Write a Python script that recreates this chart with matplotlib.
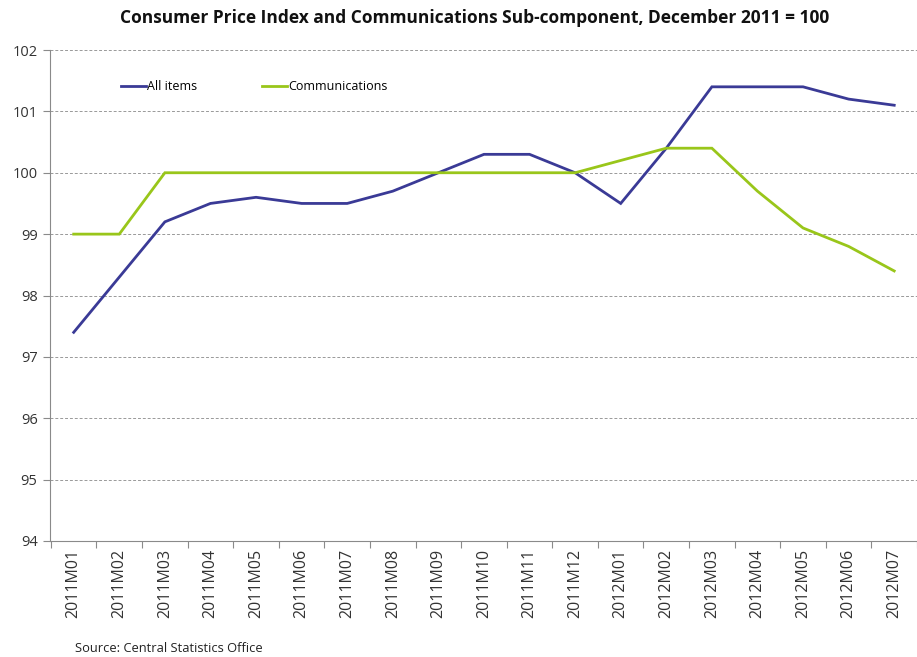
import matplotlib
matplotlib.use("Agg")
import matplotlib.pyplot as plt
import numpy as np

categories = ["2011M01", "2011M02", "2011M03", "2011M04", "2011M05", "2011M06",
              "2011M07", "2011M08", "2011M09", "2011M10", "2011M11", "2011M12",
              "2012M01", "2012M02", "2012M03", "2012M04", "2012M05", "2012M06",
              "2012M07"]
all_items = [97.4, 98.3, 99.2, 99.5, 99.6, 99.5, 99.5, 99.7, 100.0, 100.3,
             100.3, 100.0, 99.5, 100.4, 101.4, 101.4, 101.4, 101.2, 101.1]
communications = [99.0, 99.0, 100.0, 100.0, 100.0, 100.0, 100.0, 100.0, 100.0,
                  100.0, 100.0, 100.0, 100.2, 100.4, 100.4, 99.7, 99.1, 98.8, 98.4]
yticks = [94, 95, 96, 97, 98, 99, 100, 101, 102]

plt.rcParams['font.family'] = ['Open Sans', 'DejaVu Sans']

fig = plt.figure(figsize=(9.17, 6.57), dpi=100)
ax = fig.add_axes([50/917, 1 - 541/657, 1 - 50/917, 491/657])

x = np.arange(len(categories))
ax.plot(x, all_items, color="#3A3A96", lw=2.0, label="All items", solid_joinstyle="miter")
ax.plot(x, communications, color="#99C61A", lw=2.0, label="Communications", solid_joinstyle="miter")

ax.set_ylim(94, 102)
ax.set_xlim(-0.52, 18.3)
ax.set_yticks(yticks)
ax.set_yticklabels([str(t) for t in yticks], fontsize=10.5, color="#333333")
for t in yticks[1:]:
    ax.axhline(t, color="#999999", lw=0.7, ls=(0, (3, 2)), zorder=0)

ax.set_xticks(x)
ax.set_xticklabels(categories, rotation=90, fontsize=11.5, color="#333333")
ax.tick_params(axis="x", which="major", length=0, pad=6)
ax.set_xticks(np.arange(-0.5, len(categories), 1), minor=True)
ax.tick_params(axis="x", which="minor", length=5, color="#8a8a8a", width=0.8)
ax.tick_params(axis="y", length=5, color="#8a8a8a", width=0.8, pad=4)

for s in ["top", "right"]:
    ax.spines[s].set_visible(False)
for s in ["left", "bottom"]:
    ax.spines[s].set_color("#8a8a8a")
    ax.spines[s].set_linewidth(0.8)

leg = ax.legend(loc="upper left", bbox_to_anchor=(0.069, 0.962), ncol=2, frameon=False,
                fontsize=9, handlelength=2.0, handletextpad=0.1, columnspacing=5.2)

fig.text(475/917, 1 - 18/657, "Consumer Price Index and Communications Sub-component, December 2011 = 100",
         ha="center", va="center", fontsize=12.5, fontweight="bold", color="#111111")
fig.text(75/917, 1 - 649/657, "Source: Central Statistics Office", ha="left", va="center",
         fontsize=9.3, color="#222222")

fig.savefig("out.png", dpi=100)
